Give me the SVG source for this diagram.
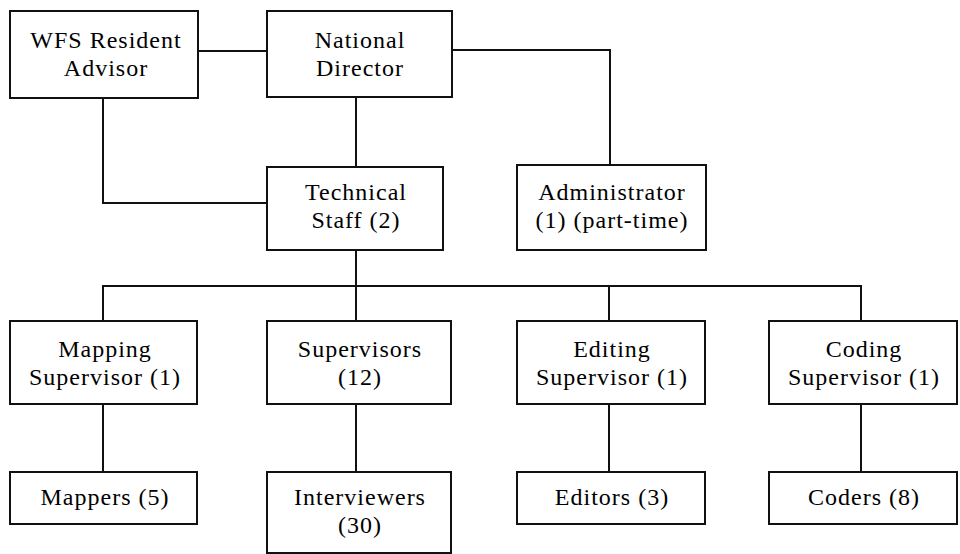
<svg xmlns="http://www.w3.org/2000/svg" width="960" height="554" viewBox="0 0 960 554">
<rect width="960" height="554" fill="#fff"/>
<g id="connectors" fill="none" stroke="#111" stroke-width="2">
<path d="M198,51H267"/>
<path d="M452,50H610V165"/>
<path d="M356,97V167"/>
<path d="M103,98V203H267"/>
<path d="M356,250V286"/>
<path d="M103,321V286H861V321"/>
<path d="M356,286V321"/>
<path d="M609,286V321"/>
<path d="M103,404V472"/>
<path d="M356,404V472"/>
<path d="M609,404V472"/>
<path d="M861,404V472"/>
</g>
<g id="wfs"><rect x="10" y="11" width="188" height="87" fill="#fff" stroke="#111" stroke-width="2"/><text x="106" y="48" font-family="Liberation Serif, serif" font-size="24" letter-spacing="1" text-anchor="middle">WFS Resident</text><text x="106" y="76" font-family="Liberation Serif, serif" font-size="24" letter-spacing="1" text-anchor="middle">Advisor</text></g>
<g id="director"><rect x="267" y="11" width="185" height="86" fill="#fff" stroke="#111" stroke-width="2"/><text x="360" y="48" font-family="Liberation Serif, serif" font-size="24" letter-spacing="1" text-anchor="middle">National</text><text x="360" y="76" font-family="Liberation Serif, serif" font-size="24" letter-spacing="1" text-anchor="middle">Director</text></g>
<g id="technical"><rect x="267" y="167" width="176" height="83" fill="#fff" stroke="#111" stroke-width="2"/><text x="356" y="200" font-family="Liberation Serif, serif" font-size="24" letter-spacing="1" text-anchor="middle">Technical</text><text x="356" y="228" font-family="Liberation Serif, serif" font-size="24" letter-spacing="1" text-anchor="middle">Staff (2)</text></g>
<g id="admin"><rect x="517" y="165" width="189" height="85" fill="#fff" stroke="#111" stroke-width="2"/><text x="612" y="200" font-family="Liberation Serif, serif" font-size="24" letter-spacing="1" text-anchor="middle">Administrator</text><text x="612" y="228" font-family="Liberation Serif, serif" font-size="24" letter-spacing="1" text-anchor="middle">(1) (part-time)</text></g>
<g id="mapping"><rect x="10" y="321" width="187" height="83" fill="#fff" stroke="#111" stroke-width="2"/><text x="105" y="357" font-family="Liberation Serif, serif" font-size="24" letter-spacing="1" text-anchor="middle">Mapping</text><text x="105" y="385" font-family="Liberation Serif, serif" font-size="24" letter-spacing="1" text-anchor="middle">Supervisor (1)</text></g>
<g id="supervisors"><rect x="267" y="321" width="184" height="83" fill="#fff" stroke="#111" stroke-width="2"/><text x="360" y="357" font-family="Liberation Serif, serif" font-size="24" letter-spacing="1" text-anchor="middle">Supervisors</text><text x="360" y="385" font-family="Liberation Serif, serif" font-size="24" letter-spacing="1" text-anchor="middle">(12)</text></g>
<g id="editing"><rect x="517" y="321" width="188" height="83" fill="#fff" stroke="#111" stroke-width="2"/><text x="612" y="357" font-family="Liberation Serif, serif" font-size="24" letter-spacing="1" text-anchor="middle">Editing</text><text x="612" y="385" font-family="Liberation Serif, serif" font-size="24" letter-spacing="1" text-anchor="middle">Supervisor (1)</text></g>
<g id="coding"><rect x="769" y="321" width="188" height="83" fill="#fff" stroke="#111" stroke-width="2"/><text x="864" y="357" font-family="Liberation Serif, serif" font-size="24" letter-spacing="1" text-anchor="middle">Coding</text><text x="864" y="385" font-family="Liberation Serif, serif" font-size="24" letter-spacing="1" text-anchor="middle">Supervisor (1)</text></g>
<g id="mappers"><rect x="10" y="472" width="187" height="52" fill="#fff" stroke="#111" stroke-width="2"/><text x="105" y="505" font-family="Liberation Serif, serif" font-size="24" letter-spacing="1" text-anchor="middle">Mappers (5)</text></g>
<g id="interviewers"><rect x="267" y="472" width="184" height="81" fill="#fff" stroke="#111" stroke-width="2"/><text x="360" y="505" font-family="Liberation Serif, serif" font-size="24" letter-spacing="1" text-anchor="middle">Interviewers</text><text x="360" y="533" font-family="Liberation Serif, serif" font-size="24" letter-spacing="1" text-anchor="middle">(30)</text></g>
<g id="editors"><rect x="517" y="472" width="188" height="52" fill="#fff" stroke="#111" stroke-width="2"/><text x="612" y="505" font-family="Liberation Serif, serif" font-size="24" letter-spacing="1" text-anchor="middle">Editors (3)</text></g>
<g id="coders"><rect x="769" y="472" width="188" height="52" fill="#fff" stroke="#111" stroke-width="2"/><text x="864" y="505" font-family="Liberation Serif, serif" font-size="24" letter-spacing="1" text-anchor="middle">Coders (8)</text></g>
</svg>
